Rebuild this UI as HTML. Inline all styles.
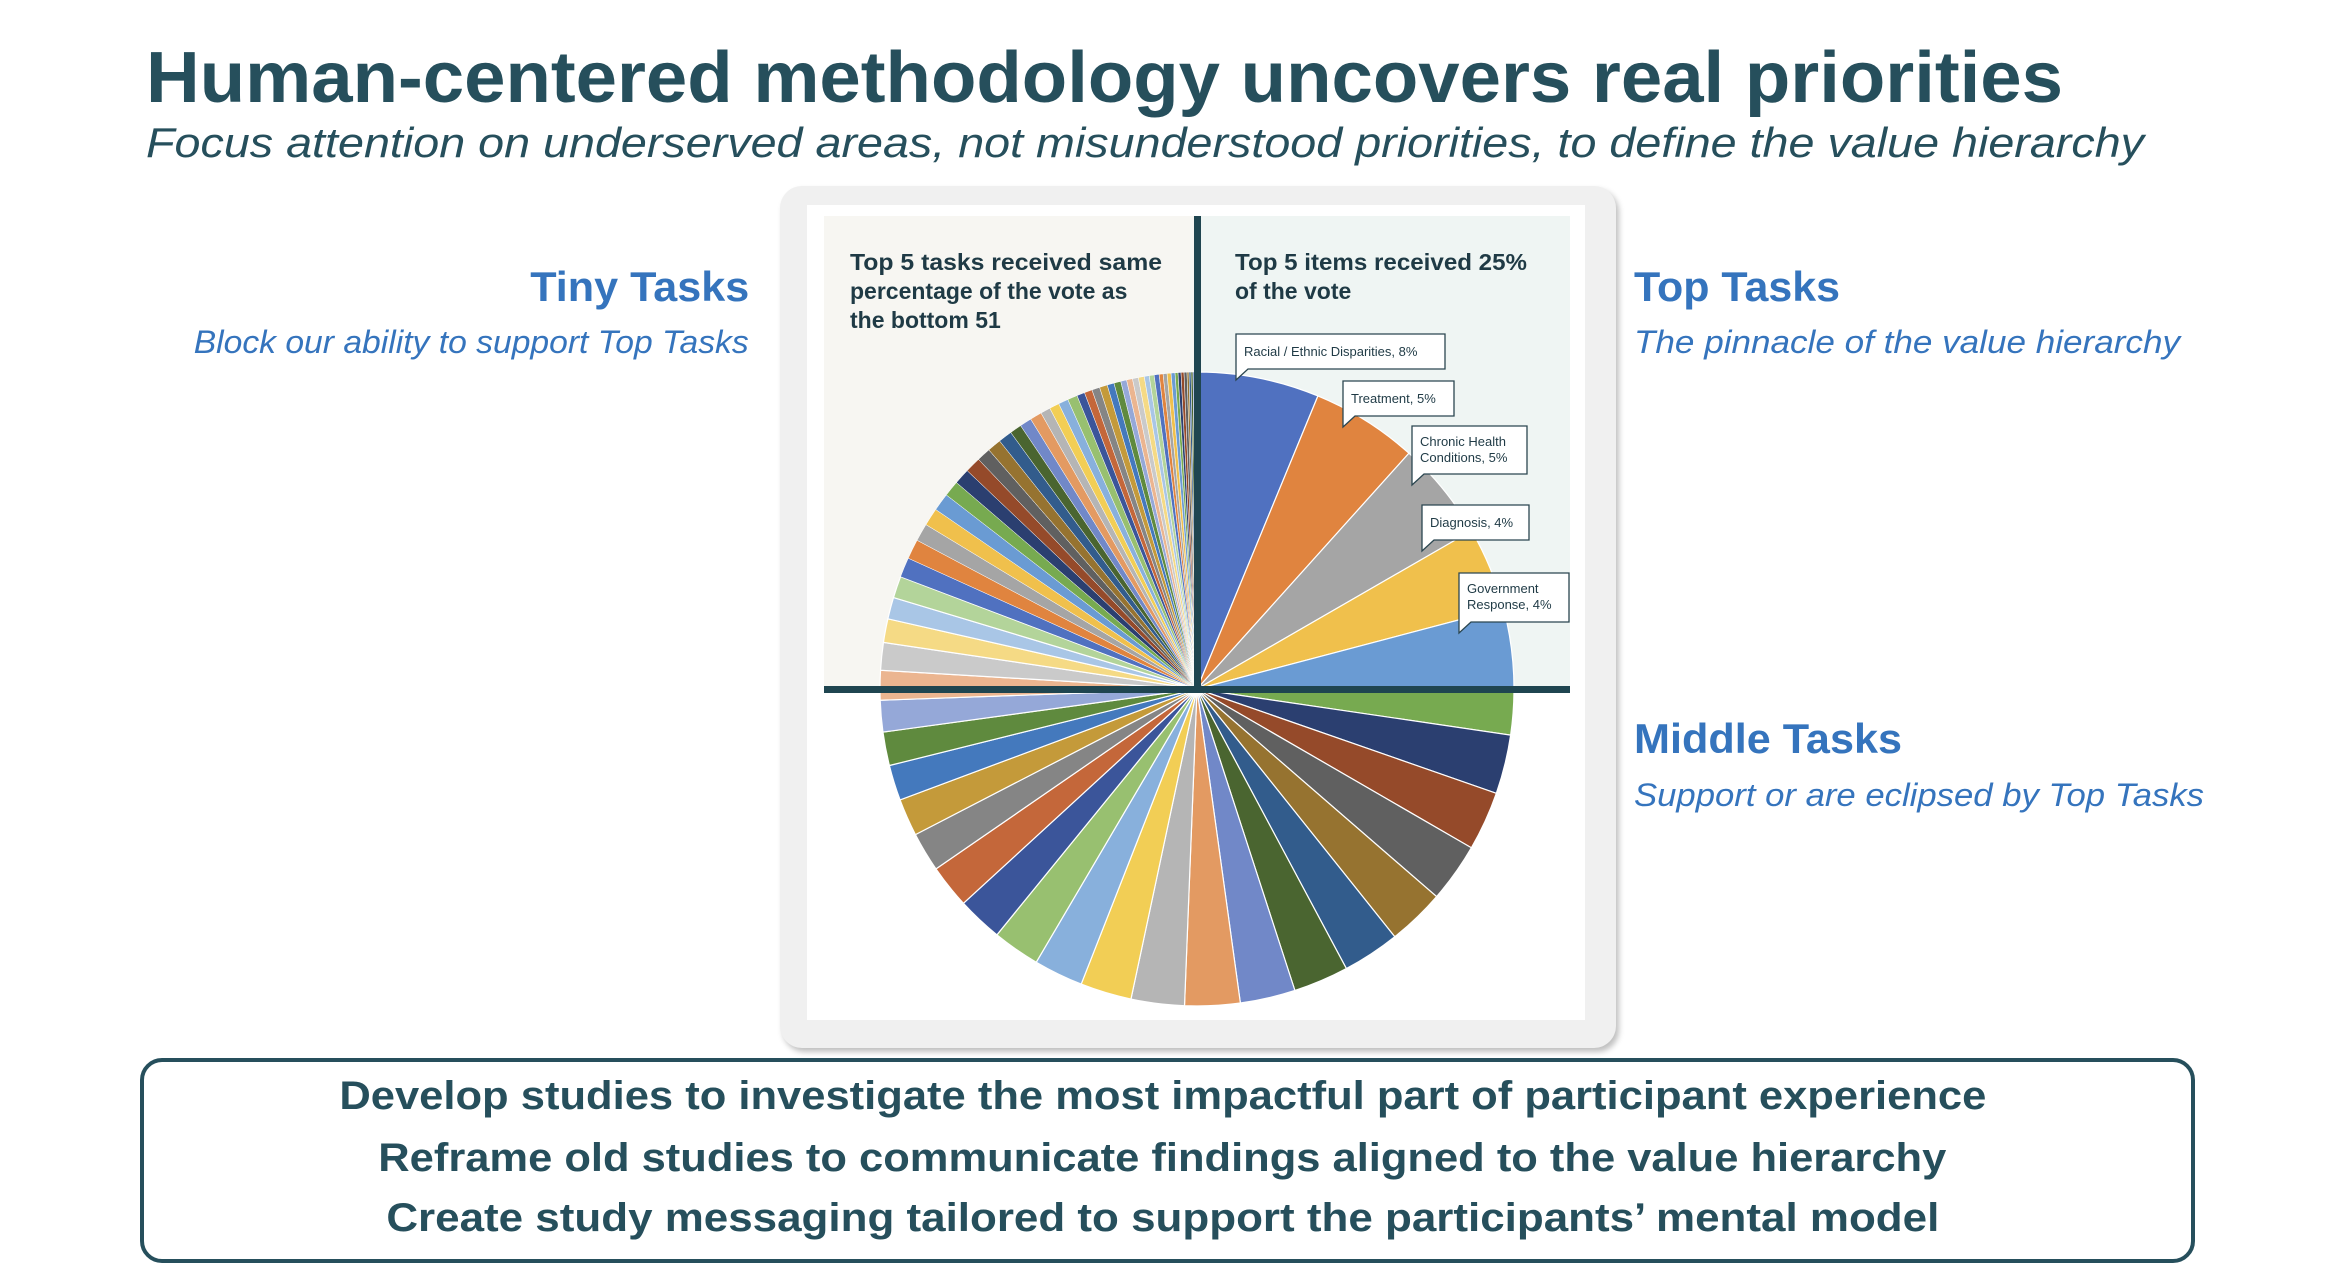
<!DOCTYPE html>
<html><head><meta charset="utf-8">
<style>
html,body{margin:0;padding:0;}
body{width:2352px;height:1276px;position:relative;background:#fff;overflow:hidden;font-family:"Liberation Sans",sans-serif;}
.t{position:absolute;white-space:nowrap;line-height:1;}
.fit{display:inline-block;}
#title{left:146px;top:42px;font-size:72px;font-weight:bold;color:#264f5c;}
#subtitle{left:146px;top:122px;font-size:42px;font-style:italic;color:#264f5c;}
.hd{font-size:42px;font-weight:bold;color:#3574bd;}
.sb{font-size:32px;font-style:italic;color:#3574bd;}
#card{position:absolute;left:780px;top:186px;width:836px;height:862px;background:#f0f0f0;border-radius:22px;box-shadow:3px 4px 6px rgba(0,0,0,0.25);}
#inner{position:absolute;left:807px;top:205px;width:778px;height:815px;background:#fff;}
#bottombox{position:absolute;left:140px;top:1058px;width:2047px;height:197px;border:4px solid #264f5c;border-radius:22px;}
.bl{font-size:40px;font-weight:bold;color:#264f5c;}
</style></head>
<body>
<div class="t" id="title"><span class="fit" data-fit="1917" data-al="l">Human-centered methodology uncovers real priorities</span></div>
<div class="t" id="subtitle"><span class="fit" data-fit="1998" data-al="l">Focus attention on underserved areas, not misunderstood priorities, to define the value hierarchy</span></div>

<div class="t hd" style="right:1603px;top:266px;"><span class="fit" data-fit="219" data-al="r">Tiny Tasks</span></div>
<div class="t sb" style="right:1603px;top:326px;"><span class="fit" data-fit="555" data-al="r">Block our ability to support Top Tasks</span></div>
<div class="t hd" style="left:1634px;top:266px;"><span class="fit" data-fit="206" data-al="l">Top Tasks</span></div>
<div class="t sb" style="left:1634px;top:326px;"><span class="fit" data-fit="546" data-al="l">The pinnacle of the value hierarchy</span></div>
<div class="t hd" style="left:1634px;top:718px;"><span class="fit" data-fit="268" data-al="l">Middle Tasks</span></div>
<div class="t sb" style="left:1634px;top:779px;"><span class="fit" data-fit="570" data-al="l">Support or are eclipsed by Top Tasks</span></div>

<div id="card"></div>
<div id="inner"></div>
<svg id="chart" width="2352" height="1276" style="position:absolute;left:0;top:0;">
<rect x="824" y="216" width="373" height="473" fill="#f7f6f2"/>
<rect x="1197" y="216" width="373" height="473" fill="#eff5f3"/>
<g id="slices"></g>
<rect x="1194" y="216" width="7" height="473" fill="#1f4550"/>
<rect x="824" y="686" width="746" height="7" fill="#1f4550"/>
<g font-family="Liberation Sans, sans-serif" font-size="23" fill="#1f3a45" font-weight="bold">
<text x="850" y="270"><tspan x="850" y="270" textLength="312" lengthAdjust="spacingAndGlyphs">Top 5 tasks received same</tspan><tspan x="850" y="299">percentage of the vote as</tspan><tspan x="850" y="328">the bottom 51</tspan></text>
<text x="1235" y="270"><tspan x="1235" y="270" textLength="292" lengthAdjust="spacingAndGlyphs">Top 5 items received 25%</tspan><tspan x="1235" y="299">of the vote</tspan></text>
</g>
<g id="callouts" font-family="Liberation Sans, sans-serif" font-size="13" fill="#1f3a45"></g>
</svg>

<div id="bottombox"></div>
<div class="t bl" style="left:0;width:2325px;text-align:center;top:1076px;"><span class="fit" data-fit="1647" data-al="c">Develop studies to investigate the most impactful part of participant experience</span></div>
<div class="t bl" style="left:0;width:2325px;text-align:center;top:1138px;"><span class="fit" data-fit="1568" data-al="c">Reframe old studies to communicate findings aligned to the value hierarchy</span></div>
<div class="t bl" style="left:0;width:2325px;text-align:center;top:1198px;"><span class="fit" data-fit="1553" data-al="c">Create study messaging tailored to support the participants’ mental model</span></div>

<script>
// ---- chart data ----
const topLabels = [["Racial / Ethnic Disparities, 8%"], ["Treatment, 5%"], ["Chronic Health", "Conditions, 5%"], ["Diagnosis, 4%"], ["Government", "Response, 4%"]];
const topValues = [6.2, 5.4, 5.0, 4.2, 4.2];
const middleValues = [2.2, 3.0, 3.0, 3.0, 2.9, 2.9, 2.8, 2.8, 2.8, 2.7, 2.6, 2.5, 2.4, 2.3, 2.2, 2.0, 1.9, 1.8, 1.7, 1.6, 1.5, 1.4];
const tinyValues = [1.2, 1.1, 1.1, 1.0, 1.0, 0.9, 0.9, 0.9, 0.8, 0.8, 0.8, 0.7, 0.7, 0.7, 0.6, 0.6, 0.6, 0.5, 0.5, 0.5, 0.5, 0.4, 0.4, 0.4, 0.4, 0.35, 0.35, 0.3, 0.3, 0.3, 0.3, 0.25, 0.25, 0.25, 0.2, 0.2, 0.2, 0.2, 0.15, 0.15, 0.15, 0.15, 0.1, 0.1, 0.1, 0.1, 0.1];
const palette = ["#5071c0","#e0843f","#a5a5a5","#f0c04c","#6a9bd3","#77aa50",
 "#2b3f70","#954a2a","#606060","#967330","#325c8c","#4a6530",
 "#7188c8","#e39a62","#b5b5b5","#f2ce55","#88b0dc","#98c070",
 "#3b559a","#c4673a","#858585","#c49a3a","#4479bd","#5f8a3e",
 "#95a8d8","#ebb590","#cacaca","#f5da85","#a9c6e6","#b3d49a"];

// callout box layout (pixel positions of label boxes)
const calloutBoxes = [[1236,334,209,35],[1343,381,111,35],[1412,426,115,48],[1422,505,107,35],[1459,573,110,49]];

const cx = 1197, cy = 689, R = 317;
const allValues = topValues.concat(middleValues, tinyValues);
const total = allValues.reduce((a,b)=>a+b,0);
function angleOf(v){ return v/total*2*Math.PI; }
function pt(a, r){ return [cx + r*Math.sin(a), cy - r*Math.cos(a)]; }

const g = document.getElementById('slices');
const NS = "http://www.w3.org/2000/svg";
let a0 = 0;
allValues.forEach((v,i)=>{
  const a1 = a0 + angleOf(v);
  const p0 = pt(a0,R), p1 = pt(a1,R);
  const large = (a1-a0) > Math.PI ? 1 : 0;
  const path = document.createElementNS(NS,'path');
  path.setAttribute('d', `M${cx},${cy} L${p0[0]},${p0[1]} A${R},${R} 0 ${large} 1 ${p1[0]},${p1[1]} Z`);
  path.setAttribute('fill', palette[i % palette.length]);
  path.setAttribute('stroke', '#fff');
  path.setAttribute('stroke-width', i < 30 ? '1.2' : '0.5');
  
  
  g.appendChild(path);
  a0 = a1;
});

const cg = document.getElementById('callouts');
topLabels.forEach((parts,i)=>{
  const [bx,by,w,h] = calloutBoxes[i];
  const grp = document.createElementNS(NS,'g');
  
  
  const poly = document.createElementNS(NS,'path');
  poly.setAttribute('d', `M${bx},${by} H${bx+w} V${by+h} H${bx+12} L${bx},${by+h+11} Z`);
  poly.setAttribute('fill','#fff');
  poly.setAttribute('stroke','#2b4650');
  poly.setAttribute('stroke-width','1.3');
  grp.appendChild(poly);
  const tx = document.createElementNS(NS,'text');
  tx.setAttribute('font-size','13');
  parts.forEach((p,j)=>{
    const ts = document.createElementNS(NS,'tspan');
    ts.setAttribute('x', bx+8);
    ts.setAttribute('y', by + (parts.length===1 ? 22 : 20 + j*16));
    ts.textContent = p;
    tx.appendChild(ts);
  });
  grp.appendChild(tx);
  cg.appendChild(grp);
});

// fit text widths
document.querySelectorAll('.fit').forEach(el=>{
  const target = parseFloat(el.getAttribute('data-fit'));
  const w = el.getBoundingClientRect().width;
  if (w > 0) {
    const al = el.getAttribute('data-al');
    el.style.transformOrigin = al === 'r' ? 'right center' : (al === 'c' ? 'center center' : 'left center');
    el.style.transform = 'scaleX(' + (target/w) + ')';
  }
});
</script>
</body></html>
